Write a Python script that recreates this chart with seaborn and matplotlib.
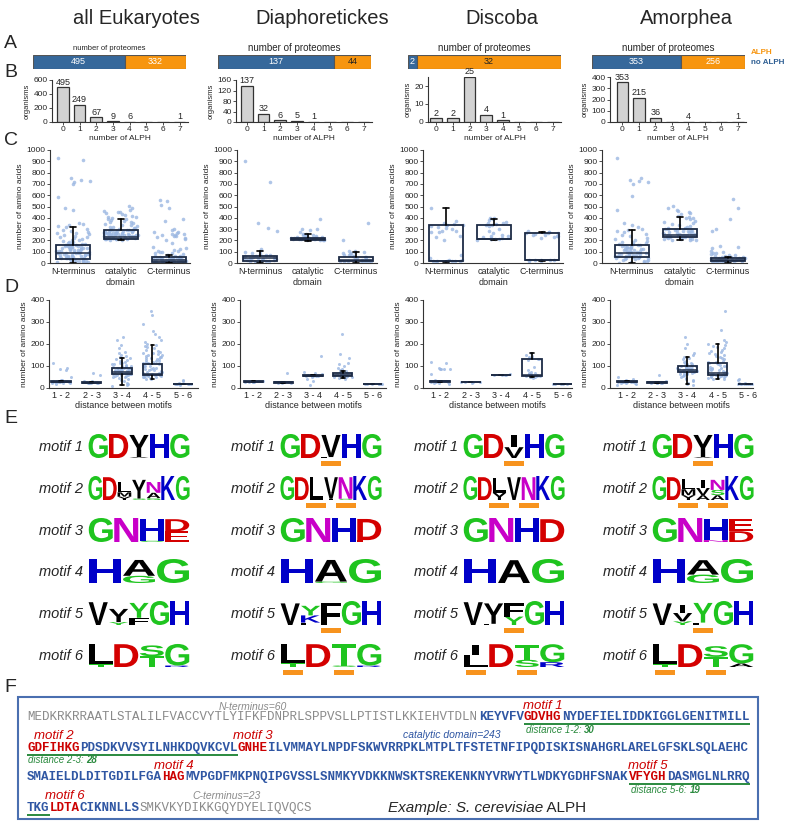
import numpy as np
import pandas as pd
import matplotlib
matplotlib.use("Agg")
import matplotlib.pyplot as plt
import seaborn as sns
from matplotlib.textpath import TextPath
from matplotlib.font_manager import FontProperties
from matplotlib.patches import PathPatch, Rectangle
from matplotlib.transforms import Affine2D

# ---------------- DATA ----------------
GROUPS = ["all Eukaryotes", "Diaphoretickes", "Discoba", "Amorphea"]
PROTEOMES_NO_ALPH = [495, 137, 2, 353]
PROTEOMES_ALPH = [332, 44, 32, 256]

ALPH_COUNTS = [0, 1, 2, 3, 4, 5, 6, 7]
ORG_EUK = [495, 249, 67, 9, 6, 0, 0, 1]
ORG_DIA = [137, 32, 6, 5, 1, 0, 0, 0]
ORG_DIS = [2, 2, 25, 4, 1, 0, 0, 0]
ORG_AMO = [353, 215, 36, 0, 4, 0, 0, 1]
ORG_YMAX = [600, 160, 25, 400]
ORG_YTICKS = [[0, 200, 400, 600], [0, 40, 80, 120, 160], [0, 10, 20], [0, 100, 200, 300, 400]]

DOMAINS = ["N-terminus", "catalytic\ndomain", "C-terminus"]

# panel C points (number of amino acids)
C_EUK_N = [930, 915, 752, 738, 725, 718, 700, 588, 488, 470, 352, 341, 336, 330, 322, 305, 296, 285,
           276, 268, 262, 255, 248, 240, 233, 226, 220, 214, 206, 200, 196, 190, 185, 180, 176, 171,
           167, 163, 160, 157, 154, 151, 148, 145, 142, 139, 136, 133, 130, 127, 124, 121, 118, 115,
           112, 109, 106, 103, 100, 97, 94, 92, 90, 88, 85, 83, 80, 78, 75, 72, 70, 67, 64, 61, 58,
           55, 52, 49, 46, 43, 40, 37, 35, 32, 29, 26, 23, 20, 17, 14, 11, 8, 5, 3, 150, 140, 130,
           120, 110, 95, 85, 60, 45, 30, 20]
C_EUK_CAT = [502, 485, 470, 462, 455, 450, 440, 432, 425, 418, 410, 404, 398, 390, 385, 378, 372,
             365, 360, 352, 345, 340, 335, 328, 322, 318, 312, 308, 304, 300, 296, 292, 290, 288, 285,
             282, 280, 278, 276, 274, 272, 270, 268, 266, 264, 262, 260, 258, 256, 254, 252, 250, 248,
             246, 244, 242, 240, 238, 236, 234, 232, 230, 228, 226, 224, 222, 220, 218, 216, 214, 212,
             210, 208, 205, 202, 265, 255, 245, 235, 225, 275, 285, 260, 240, 230, 220, 215]
C_EUK_C = [560, 548, 512, 490, 385, 372, 300, 290, 275, 270, 265, 260, 255, 250, 245, 240, 235, 230,
           225, 215, 200, 180, 140, 135, 120, 115, 110, 105, 100, 95, 90, 85, 80, 75, 70, 65, 60, 58,
           55, 52, 50, 48, 45, 42, 40, 38, 36, 34, 32, 30, 28, 26, 24, 22, 20, 18, 16, 14, 12, 10, 8,
           6, 4, 2, 35, 30, 25, 20, 15, 10, 40, 45]
C_DIA_N = [905, 720, 352, 310, 280, 120, 110, 100, 90, 80, 75, 70, 65, 60, 55, 50, 48, 45, 42, 40,
           38, 35, 32, 30, 28, 25, 22, 20, 18, 15, 12, 10, 8, 5, 3]
C_DIA_CAT = [392, 305, 300, 290, 270, 260, 255, 250, 245, 240, 238, 235, 232, 230, 228, 226, 225,
             224, 222, 220, 219, 218, 217, 216, 215, 214, 213, 212, 211, 210, 208, 206, 204, 202, 200]
C_DIA_C = [352, 200, 110, 105, 100, 95, 90, 85, 80, 75, 70, 65, 60, 55, 50, 45, 40, 35, 30, 28, 25,
           22, 20, 18, 15, 12, 10, 8, 5, 3]
C_DIS_N = [490, 370, 350, 345, 340, 338, 335, 330, 320, 310, 300, 285, 280, 275, 270, 240, 230, 200,
           70, 40, 30, 25, 22, 20, 18, 17, 16, 15, 14, 12, 10]
C_DIS_CAT = [400, 395, 385, 380, 365, 355, 350, 345, 340, 335, 330, 300, 280, 265, 250, 240, 235,
             230, 225, 220, 215, 212, 210, 208, 205]
C_DIS_C = [280, 278, 275, 270, 268, 265, 262, 260, 250, 245, 240, 235, 230, 225, 30, 28, 26, 25, 24,
           22, 20]
C_AMO_N = [928, 750, 738, 722, 715, 700, 590, 470, 355, 340, 320, 305, 295, 285, 270, 258, 246, 235,
           225, 215, 205, 198, 190, 183, 176, 170, 165, 160, 156, 152, 148, 144, 140, 136, 132, 128,
           124, 120, 116, 112, 108, 104, 100, 97, 94, 91, 88, 85, 82, 79, 76, 73, 70, 67, 64, 61, 58,
           55, 52, 49, 46, 43, 40, 36, 32, 28, 24, 20, 16, 12, 8, 4, 150, 130, 110, 95, 80, 60, 40]
C_AMO_CAT = [502, 488, 470, 460, 448, 440, 430, 420, 410, 402, 395, 385, 375, 365, 355, 345, 335,
             325, 318, 312, 306, 300, 296, 292, 288, 284, 280, 276, 272, 268, 264, 260, 256, 252, 248,
             245, 242, 239, 236, 233, 230, 227, 224, 221, 218, 215, 212, 209, 206, 203, 200, 250, 240,
             260, 270, 235, 245, 280, 300]
C_AMO_C = [565, 485, 390, 300, 280, 150, 140, 130, 110, 100, 90, 85, 80, 75, 70, 65, 60, 55, 52, 50,
           48, 45, 42, 40, 38, 36, 34, 32, 30, 28, 26, 24, 22, 20, 18, 16, 14, 12, 10, 8, 6, 4, 2,
           35, 30, 25, 20, 15, 40, 28]
C_POINTS = [[C_EUK_N, C_EUK_CAT, C_EUK_C], [C_DIA_N, C_DIA_CAT, C_DIA_C],
            [C_DIS_N, C_DIS_CAT, C_DIS_C], [C_AMO_N, C_AMO_CAT, C_AMO_C]]
# box statistics per domain: (whisker low, q1, median, q3, whisker high)
C_BOX_EUK = [(0, 38, 88, 155, 322), (205, 210, 234, 292, 392), (0, 12, 28, 50, 70)]
C_BOX_DIA = [(0, 15, 42, 58, 108), (196, 205, 215, 225, 254), (3, 15, 30, 55, 98)]
C_BOX_DIS = [(10, 15, 20, 335, 490), (205, 210, 215, 338, 392), (20, 25, 30, 265, 278)]
C_BOX_AMO = [(0, 55, 90, 158, 295), (200, 232, 245, 305, 405), (2, 15, 25, 40, 55)]
C_BOXES = [C_BOX_EUK, C_BOX_DIA, C_BOX_DIS, C_BOX_AMO]

DISTANCES = ["1 - 2", "2 - 3", "3 - 4", "4 - 5", "5 - 6"]
D_EUK = [
    [115, 90, 85, 80, 48, 38, 35, 33, 32, 31, 30, 30, 29, 29, 28, 28, 27, 27, 26, 25, 24, 22, 18],
    [70, 60, 32, 30, 28, 27, 27, 26, 26, 25, 25, 24, 24, 23, 22],
    [232, 220, 195, 180, 165, 160, 150, 145, 140, 135, 130, 128, 125, 120, 118, 115, 112, 110, 108,
     105, 102, 100, 98, 96, 95, 93, 92, 90, 89, 88, 87, 86, 85, 84, 83, 82, 81, 80, 79, 78, 77, 76,
     75, 74, 73, 72, 71, 70, 69, 68, 67, 66, 65, 64, 63, 62, 61, 60, 58, 56, 54, 52, 50, 45, 40, 35,
     30, 25, 20, 15, 10],
    [350, 330, 290, 260, 245, 230, 220, 210, 200, 195, 190, 185, 180, 175, 170, 165, 160, 158, 155,
     150, 148, 145, 142, 140, 138, 135, 132, 130, 128, 125, 122, 120, 118, 115, 112, 110, 108, 105,
     102, 100, 98, 95, 92, 90, 88, 85, 82, 80, 78, 75, 72, 70, 68, 66, 64, 62, 61, 60, 59, 58, 57,
     56, 55, 54, 52, 50, 48, 45, 42, 40],
    [38, 30, 22, 20, 19, 19, 18, 18, 17, 17, 16, 16, 15]]
D_DIA = [
    [33, 32, 31, 30, 30, 29, 29, 28, 28, 27],
    [70, 28, 27, 26, 26, 25, 25, 24],
    [145, 75, 70, 65, 60, 58, 57, 56, 55, 55, 54, 50, 40, 30, 15],
    [245, 155, 135, 115, 110, 100, 90, 85, 80, 78, 75, 72, 70, 68, 66, 65, 64, 63, 62, 61, 60, 59,
     58, 57, 56, 55, 54, 52, 50, 48, 45, 42],
    [20, 19, 18, 18, 17, 17, 16]]
D_DIS = [
    [120, 115, 90, 88, 87, 86, 85, 62, 35, 33, 32, 31, 30, 29, 28, 27, 25, 22, 20],
    [27, 26, 26, 26, 25],
    [62, 61, 60, 60, 59],
    [158, 150, 145, 140, 138, 135, 132, 130, 128, 95, 80, 75, 70, 68, 65, 62, 60, 58, 56, 55, 54, 52,
     50, 48, 45],
    [20, 19, 18, 18, 17]]
D_AMO = [
    [48, 42, 35, 33, 32, 31, 30, 30, 29, 29, 28, 28, 27, 27, 26, 25, 24, 22, 18, 15],
    [60, 30, 28, 27, 27, 26, 26, 25, 25, 24, 24, 23],
    [232, 200, 180, 160, 150, 140, 135, 130, 125, 120, 115, 112, 110, 108, 105, 102, 100, 98, 96, 95,
     93, 92, 90, 89, 88, 87, 86, 85, 84, 83, 82, 81, 80, 79, 78, 77, 76, 75, 74, 72, 70, 68, 66, 64,
     62, 60, 58, 55, 50, 45, 40, 35, 30, 25, 20, 15],
    [350, 265, 220, 210, 200, 195, 190, 185, 180, 175, 170, 165, 160, 155, 150, 145, 140, 135, 130,
     125, 120, 118, 115, 112, 110, 105, 100, 98, 95, 92, 90, 88, 85, 82, 80, 78, 75, 72, 70, 68, 66,
     64, 62, 61, 60, 59, 58, 57, 56, 55, 54, 52, 50, 48, 45, 42, 40],
    [40, 35, 25, 21, 20, 19, 19, 18, 18, 17, 17, 16, 16]]
D_POINTS = [D_EUK, D_DIA, D_DIS, D_AMO]
D_BOX_EUK = [(27, 27, 29, 31, 31), (24, 24, 25, 27, 27), (15, 62, 75, 90, 135), (42, 58, 65, 110, 195), (16, 16, 18, 19, 19)]
D_BOX_DIA = [(28, 28, 29, 31, 31), (25, 25, 26, 28, 28), (54, 54, 56, 58, 58), (45, 55, 60, 68, 78), (17, 17, 18, 19, 19)]
D_BOX_DIS = [(27, 27, 30, 33, 33), (26, 26, 26, 27, 27), (60, 60, 61, 61, 61), (48, 55, 58, 130, 158), (17, 17, 18, 19, 19)]
D_BOX_AMO = [(26, 26, 28, 30, 30), (25, 25, 26, 28, 28), (18, 72, 82, 100, 140), (40, 60, 70, 115, 200), (16, 16, 18, 19, 19)]
D_BOXES = [D_BOX_EUK, D_BOX_DIA, D_BOX_DIS, D_BOX_AMO]

# sequence logos: per motif, per position, stack of (letter, relative height) bottom -> top
# lowercase 'y' = Y drawn in green
MOTIF_NAMES = ["motif 1", "motif 2", "motif 3", "motif 4", "motif 5", "motif 6"]
LOGO_EUK = [
    [[("G", 1)], [("D", 1)], [("V", 0.04), ("Y", 0.92)], [("H", 1)], [("G", 1)]],
    [[("G", 1)], [("D", 0.95)], [("Y", 0.14), ("M", 0.18), ("L", 0.45)], [("S", 0.06), ("Y", 0.78)],
     [("G", 0.08), ("A", 0.22), ("N", 0.45)], [("K", 1)], [("G", 1)]],
    [[("G", 1)], [("N", 1)], [("S", 0.05), ("H", 0.92)], [("E", 0.45), ("D", 0.5)]],
    [[("H", 1)], [("G", 0.3), ("A", 0.66)], [("G", 1)]],
    [[("V", 0.95)], [("y", 0.12), ("Y", 0.55)], [("F", 0.3), ("y", 0.62)], [("G", 1)], [("H", 1)]],
    [[("T", 0.12), ("L", 0.82)], [("D", 0.95)], [("T", 0.45), ("S", 0.45)], [("R", 0.06), ("G", 0.9)]],
]
LOGO_DIA = [
    [[("G", 1)], [("D", 1)], [("L", 0.04), ("V", 0.92)], [("H", 1)], [("G", 1)]],
    [[("G", 1)], [("D", 0.95)], [("L", 0.95)], [("I", 0.05), ("V", 0.9)], [("S", 0.05), ("N", 0.9)],
     [("K", 1)], [("G", 1)]],
    [[("G", 1)], [("N", 1)], [("H", 1)], [("E", 0.08), ("D", 0.88)]],
    [[("H", 1)], [("G", 0.06), ("A", 0.9)], [("G", 1)]],
    [[("V", 0.9)], [("F", 0.1), ("K", 0.3), ("y", 0.4)], [("F", 0.92)], [("G", 1)], [("H", 1)]],
    [[("T", 0.15), ("L", 0.8)], [("D", 0.95)], [("S", 0.06), ("T", 0.88)], [("R", 0.06), ("G", 0.9)]],
]
LOGO_DIS = [
    [[("G", 1)], [("D", 1)], [("V", 0.45), ("I", 0.5)], [("H", 1)], [("G", 1)]],
    [[("G", 1)], [("D", 0.95)], [("Y", 0.3), ("L", 0.62)], [("V", 0.95)], [("N", 0.95)], [("K", 1)],
     [("G", 1)]],
    [[("G", 1)], [("N", 1)], [("H", 1)], [("D", 0.95)]],
    [[("H", 1)], [("A", 0.95)], [("G", 1)]],
    [[("V", 0.95)], [("L", 0.05), ("Y", 0.85)], [("y", 0.35), ("F", 0.55)], [("G", 1)], [("H", 1)]],
    [[("L", 0.5), ("I", 0.42)], [("D", 0.95)], [("S", 0.3), ("T", 0.6)], [("R", 0.2), ("G", 0.75)]],
]
LOGO_AMO = [
    [[("G", 1)], [("D", 1)], [("V", 0.04), ("Y", 0.92)], [("H", 1)], [("G", 1)]],
    [[("G", 1)], [("D", 0.95)], [("Y", 0.2), ("M", 0.25), ("L", 0.42)],
     [("A", 0.2), ("V", 0.3), ("I", 0.35)], [("A", 0.2), ("S", 0.22), ("N", 0.42)], [("K", 1)],
     [("G", 1)]],
    [[("G", 1)], [("N", 1)], [("N", 0.08), ("H", 0.88)], [("D", 0.45), ("E", 0.5)]],
    [[("H", 1)], [("G", 0.35), ("A", 0.6)], [("G", 1)]],
    [[("V", 0.9)], [("y", 0.15), ("V", 0.35), ("I", 0.35)], [("F", 0.1), ("y", 0.82)], [("G", 1)],
     [("H", 1)]],
    [[("T", 0.12), ("L", 0.85)], [("D", 0.95)], [("T", 0.42), ("S", 0.45)], [("A", 0.15), ("G", 0.8)]],
]
LOGOS = [LOGO_EUK, LOGO_DIA, LOGO_DIS, LOGO_AMO]
# positions marked with an orange bar (per column, per motif)
MARKED = [
    [[], [], [], [], [], []],
    [[2], [2, 4], [], [], [2], [0, 2]],
    [[2], [2, 4], [], [], [2], [0, 2]],
    [[2], [2, 4], [], [], [2], [0, 2]],
]

# S. cerevisiae ALPH sequence, split into lines: (text, kind)
SEQ_LINES = [
    [("MEDKRKRRAATLSTALILFVACCVYTLYIFKFDNPRLSPPVSLLPTISTLKKIEHVTDLN", "term"), ("KEYVFV", "cat"),
     ("GDVHG", "motif"), ("NYDEFIELIDDKIGGLGENITMILL", "cat")],
    [("GDFIHKG", "motif"), ("PDSDKVVSYILNHKDQVKCVL", "cat"), ("GNHE", "motif"),
     ("ILVMMAYLNPDFSKWVRRPKLMTPLTFSTETNFIPQDISKISNAHGRLARELGFSKLSQLAEHC", "cat")],
    [("SMAIELDLDITGDILFGA", "cat"), ("HAG", "motif"),
     ("MVPGDFMKPNQIPGVSSLSNMKYVDKKNWSKTSREKENKNYVRWYTLWDKYGDHFSNAK", "cat"), ("VFYGH", "motif"),
     ("DASMGLNLRRQ", "cat")],
    [("TKG", "cat"), ("LDTA", "motif"), ("CIKNNLLS", "cat"), ("SMKVKYDIKKGQYDYELIQVQCS", "term")],
]
N_TERM_LEN = 60
CAT_LEN = 243
C_TERM_LEN = 23
DIST_12 = 30
DIST_23 = 28
DIST_56 = 19

# ---------------- STYLE ----------------
sns.set_theme(style="ticks")
plt.rcParams['font.family'] = ['Liberation Sans', 'DejaVu Sans']

W, H = 787, 823
fig = plt.figure(figsize=(W / 100, H / 100), dpi=100)
fig.patch.set_facecolor("white")

BAR_BLUE = "#36689b"
BAR_ORANGE = "#f7950f"
PT_COLOR = "#9bb7e2"
BOX_EDGE = "#1d2b45"
LETTER_COLORS = {"G": "#1fc41f", "S": "#1fc41f", "T": "#1fc41f", "y": "#1fc41f", "C": "#1fc41f",
                 "D": "#d40000", "E": "#d40000", "N": "#c800c8", "Q": "#c800c8",
                 "H": "#0000c8", "K": "#0000c8", "R": "#0000c8",
                 "A": "black", "V": "black", "L": "black", "I": "black", "F": "black", "M": "black",
                 "Y": "black", "P": "black", "W": "black"}
# letters whose glyph keeps a narrow width inside its column
NARROW = {"I": 0.28}


def ax_px(x0, y0, x1, y1):
    return fig.add_axes([x0 / W, 1 - y1 / H, (x1 - x0) / W, (y1 - y0) / H])


def style_axis(ax, fs=6):
    sns.despine(ax=ax)
    ax.set_facecolor("none")
    ax.grid(False)
    ax.tick_params(axis="both", labelsize=fs, length=2, width=0.6, pad=1, color="#333")
    for s in ["left", "bottom"]:
        ax.spines[s].set_linewidth(0.8)
        ax.spines[s].set_color("#333")


# overlay for free text / logos in pixel coordinates
ov = fig.add_axes([0, 0, 1, 1])
ov.set_xlim(0, W)
ov.set_ylim(H, 0)
ov.axis("off")
ov.set_zorder(5)

# titles and panel letters
TITLE_X = [136, 322, 502, 686]
for gx, g in zip(TITLE_X, GROUPS):
    ov.text(gx, 18, g, fontsize=14.5, ha="center", va="center")
for lab, ly in zip("ABCDEF", [43, 72, 140, 288, 418, 688]):
    ov.text(4, ly, lab, fontsize=14, ha="left", va="center")

# ---------------- PANEL A ----------------
A_X = [(33, 186), (218, 371), (408, 561), (592, 745)]
A_TXT = [["white", "white"], ["white", "#222"], ["white", "#222"], ["white", "white"]]
A_FS = [5.5, 7, 7, 7]
for i, (x0, x1) in enumerate(A_X):
    ax = ax_px(x0, 55, x1, 69)
    no, yes = PROTEOMES_NO_ALPH[i], PROTEOMES_ALPH[i]
    ax.barh([0], [no], color=BAR_BLUE, height=1, edgecolor="#555", linewidth=0.8)
    ax.barh([0], [yes], left=[no], color=BAR_ORANGE, height=1, edgecolor="#555", linewidth=0.8)
    ax.set_xlim(0, no + yes)
    ax.set_ylim(-0.5, 0.5)
    ax.axis("off")
    ax.text(no / 2, 0, str(no), ha="center", va="center", fontsize=6.5, color=A_TXT[i][0])
    ax.text(no + yes / 2, 0, str(yes), ha="center", va="center", fontsize=6.5, color=A_TXT[i][1])
    ov.text((x0 + x1) / 2, 48, "number of proteomes", ha="center", va="center", fontsize=A_FS[i])
ov.text(751, 52, "ALPH", color=BAR_ORANGE, fontsize=5.8, fontweight="bold", va="center")
ov.text(751, 62, "no ALPH", color="#2e5f93", fontsize=5.8, fontweight="bold", va="center")

# ---------------- PANEL B ----------------
B_AX = [(52, 80, 188, 122), (236, 80, 372, 122), (428, 77, 561, 122), (610, 77, 746, 122)]
B_XLIM = [(-0.65, 7.5), (-0.65, 7.5), (-0.5, 7.5), (-0.75, 7.5)]
ORGS = [ORG_EUK, ORG_DIA, ORG_DIS, ORG_AMO]
for i in range(4):
    ax = ax_px(*B_AX[i])
    vals = ORGS[i]
    sns.barplot(x=ALPH_COUNTS, y=vals, ax=ax, color="#d2d2d2", saturation=1, edgecolor="#333",
                linewidth=0.9, width=0.7)
    ax.bar_label(ax.containers[0], labels=[str(v) if v > 0 else "" for v in vals], fontsize=6.5,
                 padding=0.5)
    ax.set_ylim(0, ORG_YMAX[i])
    ax.set_yticks(ORG_YTICKS[i])
    ax.set_xlim(*B_XLIM[i])
    style_axis(ax, 6)
    ax.set_xlabel("number of ALPH", fontsize=6, labelpad=1)
    ax.set_ylabel("organisms", fontsize=5.5, labelpad=2)

# ---------------- PANEL C / D helper ----------------


def box_stats(rows):
    return [dict(whislo=r[0], q1=r[1], med=r[2], q3=r[3], whishi=r[4], fliers=[]) for r in rows]


def box_strip(ax, cats, points, boxes, width, psize, jitter):
    df = pd.DataFrame({"cat": [c for c, pts in zip(cats, points) for _ in pts],
                       "val": [v for pts in points for v in pts]})
    stats = box_stats(boxes)
    pos = list(range(len(cats)))
    ax.bxp(stats, positions=pos, widths=width, patch_artist=True, showfliers=False,
           boxprops=dict(facecolor="white", edgecolor="none"),
           medianprops=dict(color="none"), whiskerprops=dict(color="none"),
           capprops=dict(color="none"), zorder=1)
    np.random.seed(7)
    sns.stripplot(data=df, x="cat", y="val", order=cats, ax=ax, color=PT_COLOR, size=psize,
                  alpha=0.8, jitter=jitter, linewidth=0, zorder=2)
    ax.bxp(stats, positions=pos, widths=width, patch_artist=True, showfliers=False,
           boxprops=dict(facecolor="none", edgecolor=BOX_EDGE, linewidth=1.3),
           medianprops=dict(color=BOX_EDGE, linewidth=1.1),
           whiskerprops=dict(color="black", linewidth=1.2),
           capprops=dict(color="black", linewidth=1.2), capwidths=0.12, zorder=3)
    ax.set_xticks(pos)
    ax.set_xticklabels(cats)
    ax.set_xlabel("")


# ---------------- PANEL C ----------------
C_AX = [(50, 150, 190, 263), (237, 150, 377, 263), (423, 150, 563, 263), (602, 150, 747, 263)]
C_XLIM = [(-0.48, 2.44), (-0.48, 2.44), (-0.48, 2.44), (-0.62, 2.4)]
for i in range(4):
    ax = ax_px(*C_AX[i])
    box_strip(ax, DOMAINS, C_POINTS[i], C_BOXES[i], 0.7, 2.6, 0.36)
    ax.set_ylim(0, 1000)
    ax.set_yticks(range(0, 1001, 100))
    ax.set_xlim(*C_XLIM[i])
    style_axis(ax, 6)
    ax.tick_params(axis="x", length=0, pad=3, labelsize=6.5)
    ax.set_ylabel("number of amino acids", fontsize=6, labelpad=2)

# ---------------- PANEL D ----------------
D_AX = [(49, 300, 198, 388), (240, 300, 386, 388), (423, 300, 572, 388), (610, 300, 753, 388)]
D_XLIM = [(-0.4, 4.5), (-0.45, 4.45), (-0.55, 4.3), (-0.56, 4.17)]
for i in range(4):
    ax = ax_px(*D_AX[i])
    box_strip(ax, DISTANCES, D_POINTS[i], D_BOXES[i], 0.65, 2.2, 0.33)
    ax.set_ylim(0, 400)
    ax.set_yticks([0, 100, 200, 300, 400])
    ax.set_xlim(*D_XLIM[i])
    style_axis(ax, 6)
    ax.tick_params(axis="x", length=0, pad=2, labelsize=6.5)
    ax.set_xlabel("distance between motifs", fontsize=6.5, labelpad=1)
    ax.set_ylabel("number of amino acids", fontsize=6, labelpad=2)

# ---------------- PANEL E (sequence logos) ----------------
fp_logo = FontProperties(family="Liberation Sans", weight="bold")
_paths = {}


def draw_letter(ch, x, yb, w, h):
    if h < 0.4:
        return
    if ch not in _paths:
        _paths[ch] = TextPath((0, 0), ch.upper(), size=100, prop=fp_logo)
    tp = _paths[ch]
    ext = tp.get_extents()
    frac = NARROW.get(ch, 1.0)
    lw = w * frac
    lx = x + (w - lw) / 2
    tr = Affine2D().translate(-ext.x0, -ext.y0).scale(lw / ext.width, -h / ext.height).translate(lx, yb)
    ov.add_patch(PathPatch(tr.transform_path(tp), facecolor=LETTER_COLORS[ch], edgecolor="none",
                           transform=ov.transData, zorder=6))


LOGO_X = [88, 280, 463, 652]
LOGO_W = 102
LOGO_H = 24
ROW_BASE = [458, 500, 542, 583, 625, 667]
for c in range(4):
    for m in range(6):
        stack_list = LOGOS[c][m]
        n = len(stack_list)
        pw = LOGO_W / n
        base = ROW_BASE[m]
        ov.text(LOGO_X[c] - 5, base - 11, MOTIF_NAMES[m], fontsize=10.5, style="italic",
                ha="right", va="center")
        for p, stack in enumerate(stack_list):
            x = LOGO_X[c] + p * pw
            yb = base
            for ch, frac in stack:
                h = frac * LOGO_H
                draw_letter(ch, x + pw * 0.03, yb, pw * 0.94, h)
                yb -= h
        for p in MARKED[c][m]:
            cx = LOGO_X[c] + (p + 0.5) * pw
            ov.add_patch(Rectangle((cx - 10, base + 3), 20, 4.5, facecolor="#f7931e",
                                   edgecolor="none", zorder=6))

# ---------------- PANEL F (sequence) ----------------
ov.add_patch(Rectangle((18, 697), 740, 122, facecolor="none", edgecolor="#4a6fb0", linewidth=1.5,
                       zorder=4))
CW = 7.53
SX = 27
LINE_Y = [717, 748, 777, 808]
SEQ_STYLE = {"term": ("#8a8a8a", "normal"), "cat": ("#2f56a3", "bold"), "motif": ("#cc0000", "bold")}
for ly, segs in zip(LINE_Y, SEQ_LINES):
    idx = 0
    for txt, kind in segs:
        col, wt = SEQ_STYLE[kind]
        ov.text(SX + idx * CW, ly, txt, family="Liberation Mono", fontsize=9.04, color=col,
                fontweight=wt, ha="left", va="center")
        idx += len(txt)

GREEN = "#2a8a3e"
RED = "#cc0000"


def cx(i0, n):
    return SX + (i0 + n / 2) * CW


def underline(ly, i0, i1):
    ov.plot([SX + i0 * CW, SX + i1 * CW], [ly + 7, ly + 7], color=GREEN, lw=1.4,
            solid_capstyle="butt")


# labels
ov.text(cx(0, N_TERM_LEN), 707, f"N-terminus={N_TERM_LEN}", color="#8a8a8a", style="italic",
        fontsize=7.5, ha="center", va="center")
ov.text(452, 735, f"catalytic domain={CAT_LEN}", color="#2f56a3", style="italic", fontsize=7.5,
        ha="center", va="center")
ov.text(cx(15, 23), 796, f"C-terminus={C_TERM_LEN}", color="#8a8a8a", style="italic",
        fontsize=7.5, ha="center", va="center")
for (lx, ly, txt) in [(cx(66, 5), 706, "motif 1"), (cx(0, 7), 736, "motif 2"),
                      (cx(28, 4), 736, "motif 3"), (cx(18, 3), 766, "motif 4"),
                      (cx(80, 5), 766, "motif 5"), (cx(3, 4), 796, "motif 6")]:
    ov.text(lx, ly, txt, color=RED, style="italic", fontsize=9.5, ha="center", va="center")

underline(LINE_Y[0], 66, 96)
underline(LINE_Y[1], 0, 28)
underline(LINE_Y[2], 80, 96)
underline(LINE_Y[3], 0, 3)
for (x, y, lab, val) in [(SX + 66 * CW + 2, 730, "distance 1-2: ", DIST_12),
                         (SX + 1, 760, "distance 2-3: ", DIST_23),
                         (SX + 80 * CW + 2, 790, "distance 5-6: ", DIST_56)]:
    t = ov.text(x, y, lab, color=GREEN, style="italic", fontsize=7, ha="left", va="center")
    ov.annotate(str(val), xycoords=t, xy=(1, 0.5), va="center", ha="left", color=GREEN,
                style="italic", fontweight="bold", fontsize=7)

t = ov.text(388, 808, "Example: S. cerevisiae", style="italic", fontsize=11, ha="left",
            va="center")
ov.annotate(" ALPH", xycoords=t, xy=(1, 0.5), va="center", ha="left", fontsize=11)

fig.savefig("out.png", dpi=100, facecolor="white")
